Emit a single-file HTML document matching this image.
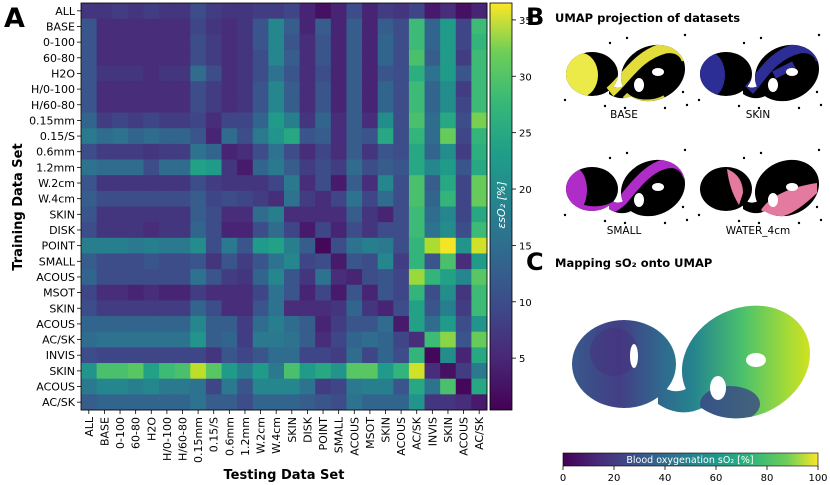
<!DOCTYPE html>
<html><head><meta charset="utf-8">
<style>
body{margin:0;background:#fff;}
svg{display:block;font-family:"DejaVu Sans","Liberation Sans",sans-serif;}
</style></head>
<body>
<svg id="fig" width="830" height="485" viewBox="0 0 830 485" xmlns="http://www.w3.org/2000/svg">
<defs>
<linearGradient id="vir" x1="0" y1="1" x2="0" y2="0">
<stop offset="0" stop-color="#440154"/><stop offset="0.13" stop-color="#482878"/><stop offset="0.25" stop-color="#3e4989"/><stop offset="0.38" stop-color="#31688e"/><stop offset="0.5" stop-color="#26828e"/><stop offset="0.63" stop-color="#1f9e89"/><stop offset="0.75" stop-color="#35b779"/><stop offset="0.88" stop-color="#6ece58"/><stop offset="1" stop-color="#fde725"/>
</linearGradient>
<linearGradient id="virh" x1="0" y1="0" x2="1" y2="0">
<stop offset="0" stop-color="#440154"/><stop offset="0.13" stop-color="#482878"/><stop offset="0.25" stop-color="#3e4989"/><stop offset="0.38" stop-color="#31688e"/><stop offset="0.5" stop-color="#26828e"/><stop offset="0.63" stop-color="#1f9e89"/><stop offset="0.75" stop-color="#35b779"/><stop offset="0.88" stop-color="#6ece58"/><stop offset="1" stop-color="#fde725"/>
</linearGradient>
<linearGradient id="umapc" gradientUnits="userSpaceOnUse" x1="0" y1="0" x2="124" y2="0">
<stop offset="0" stop-color="#38598c"/><stop offset="0.2" stop-color="#433e85"/><stop offset="0.38" stop-color="#2f6b8e"/><stop offset="0.5" stop-color="#25858e"/><stop offset="0.7" stop-color="#4cc26c"/><stop offset="0.88" stop-color="#a5db36"/><stop offset="1" stop-color="#e2e418"/>
</linearGradient>
<clipPath id="clipb">
<ellipse cx="27" cy="34" rx="26" ry="22"/>
<ellipse cx="88" cy="33" rx="33" ry="27" transform="rotate(-25 88 33)"/>
<path d="M44,44 C52,50 58,48 64,42 L66,56 C58,60 50,58 44,54Z"/>
</clipPath>
<g id="holes">
<ellipse cx="74" cy="45" rx="5" ry="7" fill="#fff"/>
<ellipse cx="93" cy="32" rx="6" ry="4" fill="#fff"/>
<circle cx="45" cy="3" r="1.2" fill="#000"/><circle cx="62" cy="-2" r="1.2" fill="#000"/><circle cx="120" cy="-5" r="1.2" fill="#000"/>
<circle cx="0" cy="60" r="1.2" fill="#000"/><circle cx="40" cy="66" r="1.2" fill="#000"/><circle cx="60" cy="68" r="1.2" fill="#000"/>
<circle cx="100" cy="68" r="1.2" fill="#000"/><circle cx="122" cy="65" r="1.2" fill="#000"/><circle cx="118" cy="52" r="1.2" fill="#000"/>
</g>
</defs>
<g id="heat"></g>
<g id="cbar"></g>
<text x="4" y="27" font-size="27" font-weight="bold">A</text>
<text transform="translate(22,207) rotate(-90)" text-anchor="middle" font-size="13" font-weight="bold">Training Data Set</text>
<text x="284" y="479" text-anchor="middle" font-size="13" font-weight="bold">Testing Data Set</text>

<text x="526" y="25" font-size="24" font-weight="bold">B</text>
<text x="555" y="22" font-size="11.5" font-weight="bold">UMAP projection of datasets</text>

<g transform="translate(565,40)">
<g clip-path="url(#clipb)"><rect x="-5" y="-10" width="135" height="80" fill="#000"/><ellipse cx="16" cy="35" rx="17" ry="22" fill="#ecea48"/><path d="M45,52 C60,40 72,15 100,8 C112,6 120,12 122,20" fill="none" stroke="#e3dd3c" stroke-width="11"/><path d="M60,55 C70,65 90,64 100,58" fill="none" stroke="#d8d440" stroke-width="6"/></g>
<use href="#holes"/></g>
<text x="624" y="118" text-anchor="middle" font-size="10.5">BASE</text>

<g transform="translate(699,40)">
<g clip-path="url(#clipb)"><rect x="-5" y="-10" width="135" height="80" fill="#000"/><ellipse cx="12" cy="35" rx="14" ry="22" fill="#2d2d96"/><path d="M50,50 C62,38 72,15 100,8 C112,6 120,12 122,20" fill="none" stroke="#2d2d96" stroke-width="11"/><path d="M75,35 L95,25" stroke="#2d2d96" stroke-width="8"/></g>
<use href="#holes"/></g>
<text x="758" y="118" text-anchor="middle" font-size="10.5">SKIN</text>

<g transform="translate(565,155)">
<g clip-path="url(#clipb)"><rect x="-5" y="-10" width="135" height="80" fill="#000"/><ellipse cx="10" cy="35" rx="12" ry="22" fill="#b02cc8"/><path d="M5,50 C25,60 45,58 58,45 C70,30 85,10 105,8 C115,8 121,14 123,22" fill="none" stroke="#b02cc8" stroke-width="10"/></g>
<use href="#holes"/></g>
<text x="624" y="234" text-anchor="middle" font-size="10.5">SMALL</text>

<g transform="translate(699,155)">
<g clip-path="url(#clipb)"><rect x="-5" y="-10" width="135" height="80" fill="#000"/><path d="M28,14 C38,18 44,26 44,38 L40,50 C34,40 30,30 28,14Z" fill="#e57aa0"/><path d="M62,55 C70,42 90,32 118,28 L118,38 C100,55 85,65 70,62Z" fill="#e57aa0"/></g>
<use href="#holes"/></g>
<text x="758" y="234" text-anchor="middle" font-size="10.5">WATER_4cm</text>

<text x="526" y="270" font-size="24" font-weight="bold">C</text>
<text x="555" y="267" font-size="11.5" font-weight="bold">Mapping sO₂ onto UMAP</text>
<g transform="translate(570,296) scale(2,2)">
<g clip-path="url(#clipb)"><rect x="-5" y="-10" width="135" height="80" fill="url(#umapc)"/><ellipse cx="80" cy="54" rx="15" ry="9" fill="#3b3f85" opacity="0.75"/><ellipse cx="22" cy="28" rx="12" ry="12" fill="#45307e" opacity="0.5"/></g>
<ellipse cx="74" cy="46" rx="4" ry="6" fill="#fff"/>
<ellipse cx="93" cy="32" rx="5" ry="3.5" fill="#fff"/>
<ellipse cx="32" cy="30" rx="2" ry="6" fill="#fff"/>
</g>
<g>
<rect x="563" y="453" width="255" height="13" fill="url(#virh)" stroke="#000" stroke-width="0.6"/>
<text x="690" y="463" text-anchor="middle" font-size="9.5" fill="#fff">Blood oxygenation sO₂ [%]</text>
</g>
<g id="so2ticks"></g>
</svg>
<script>
const rowLabels=["ALL","BASE","0-100","60-80","H2O","H/0-100","H/60-80","0.15mm","0.15/S","0.6mm","1.2mm","W.2cm","W.4cm","SKIN","DISK","POINT","SMALL","ACOUS","MSOT","SKIN","ACOUS","AC/SK","INVIS","SKIN","ACOUS","AC/SK"];
const colLabels=rowLabels.slice();
const cbarTicks=[5,10,15,20,25,30,35];
const so2Ticks=[0,20,40,60,80,100];
const values=[
[6,6,7,6,7,6,6,9,7,6,6,7,7,8,4,2,4,9,4,7,6,8,3,5,2,4],
[10,5,5,5,5,5,5,8,6,5,6,10,17,11,4,11,4,11,4,11,9,25,12,20,8,25],
[10,5,5,5,5,5,5,9,7,5,6,10,17,10,5,10,4,11,4,12,9,25,12,20,8,24],
[10,5,5,5,5,5,5,9,7,5,6,9,17,11,5,10,4,11,4,12,9,26,11,20,7,25],
[10,6,6,6,5,6,6,13,9,5,6,9,14,10,5,9,4,11,4,10,9,23,14,20,10,25],
[10,5,5,5,5,5,5,9,7,5,6,10,17,11,5,10,4,11,4,12,9,25,12,18,7,25],
[10,5,5,5,5,5,5,9,7,5,6,10,17,11,5,10,4,11,4,12,9,25,12,18,8,25],
[12,7,8,7,8,7,7,8,5,8,8,12,20,16,6,12,5,11,5,18,9,26,13,22,9,29],
[15,13,14,12,13,12,12,10,4,13,9,15,19,22,10,11,5,11,10,22,9,24,13,28,8,24],
[9,7,7,7,6,7,7,14,12,4,5,9,14,9,5,8,5,11,6,10,9,22,12,18,7,23],
[14,13,13,13,9,13,13,21,20,6,3,12,15,11,7,9,7,13,9,11,10,22,17,20,10,22],
[10,6,6,6,6,6,6,9,7,6,6,6,8,15,5,9,3,11,5,17,9,26,11,22,8,28],
[11,9,9,9,9,9,9,11,8,9,8,7,5,14,7,5,8,14,8,13,9,26,12,24,8,28],
[10,6,6,6,6,6,6,11,9,5,5,13,16,5,5,5,5,11,6,4,9,25,13,17,8,22],
[9,6,6,6,5,6,6,12,9,4,4,9,13,8,3,8,4,9,6,9,9,25,14,18,9,25],
[16,16,16,15,16,15,15,18,9,15,10,20,21,16,11,1,9,14,16,15,9,24,32,36,19,34],
[11,9,9,9,10,9,9,10,6,10,7,10,14,17,8,9,3,10,9,17,7,24,10,26,5,20],
[12,9,9,9,9,9,9,14,10,7,6,12,17,10,6,14,5,4,9,10,8,31,24,21,17,27],
[8,5,5,4,5,4,4,7,5,5,5,8,14,10,4,8,3,10,4,10,8,24,9,18,6,25],
[9,7,7,7,7,7,7,12,9,5,5,10,14,5,5,5,6,12,6,4,9,21,10,16,7,25],
[12,12,12,12,12,12,12,17,11,11,7,13,16,13,11,4,7,10,10,13,3,21,13,20,9,19],
[13,14,14,14,14,14,14,19,11,12,7,15,15,14,11,5,8,12,13,12,8,5,25,30,10,28],
[9,8,8,8,8,8,8,8,6,10,8,10,13,13,8,8,7,13,8,12,9,24,1,18,4,22],
[19,26,26,27,21,25,26,33,27,20,16,20,15,26,20,22,19,27,27,20,24,34,5,2,7,15],
[15,17,17,16,17,15,15,14,8,15,10,17,17,17,14,7,8,15,16,16,10,22,14,26,1,22],
[11,12,12,12,12,12,12,14,11,11,9,12,12,12,11,10,9,14,12,12,12,19,6,6,5,3]
];
const vmin=0.4,vmax=36.5;
const VIR=[[68,1,84],[72,40,120],[62,73,137],[49,104,142],[38,130,142],[31,158,137],[53,183,121],[110,206,88],[181,222,43],[253,231,37]];
function viridis(t){t=Math.max(0,Math.min(1,t));const p=t*(VIR.length-1),i=Math.min(Math.floor(p),VIR.length-2),f=p-i;
const c=VIR[i].map((a,k)=>Math.round(a+(VIR[i+1][k]-a)*f));return `rgb(${c[0]},${c[1]},${c[2]})`;}
const NS="http://www.w3.org/2000/svg";
const X0=81,X1=487,Y0=3,Y1=410;
const cw=(X1-X0)/colLabels.length,ch=(Y1-Y0)/rowLabels.length;
const xPos=j=>X0+j*cw, yPos=i=>Y0+i*ch;
const cbY=v=>Y1-(v-vmin)/(vmax-vmin)*(Y1-Y0);
function mk(tag,attrs,parent){const e=document.createElementNS(NS,tag);for(const k in attrs)e.setAttribute(k,attrs[k]);parent.appendChild(e);return e;}
const heat=document.getElementById('heat');
values.forEach((row,i)=>row.forEach((v,j)=>{
 const r=mk('rect',{x:xPos(j),y:yPos(i),width:cw+0.4,height:ch+0.4,fill:viridis((v-vmin)/(vmax-vmin))},heat);
 
 
}));
mk('rect',{x:X0,y:Y0,width:X1-X0,height:Y1-Y0,fill:'none',stroke:'#000','stroke-width':0.8},heat);
rowLabels.forEach((l,i)=>{
 const y=yPos(i)+ch/2;
 mk('line',{x1:X0-4,x2:X0,y1:y,y2:y,stroke:'#000','stroke-width':0.8},heat);
 const t=mk('text',{x:X0-6,y:y+4,'text-anchor':'end','font-size':11},heat);t.textContent=l;
 
 
});
colLabels.forEach((l,j)=>{
 const x=xPos(j)+cw/2;
 mk('line',{x1:x,x2:x,y1:Y1,y2:Y1+4,stroke:'#000','stroke-width':0.8},heat);
 const t=mk('text',{transform:`translate(${x+4},${Y1+7}) rotate(-90)`,'text-anchor':'end','font-size':11},heat);t.textContent=l;
 
 
});
const cb=document.getElementById('cbar');
mk('rect',{x:490,y:Y0,width:22,height:Y1-Y0,fill:'url(#vir)',stroke:'#000','stroke-width':0.8},cb);
cbarTicks.forEach(v=>{const y=cbY(v);
 mk('line',{x1:512,x2:516,y1:y,y2:y,stroke:'#000','stroke-width':0.8},cb);
 const t=mk('text',{x:519,y:y+4,'font-size':10},cb);t.textContent=v;
 
 
});
const cl=mk('text',{transform:'translate(505,205) rotate(-90)','text-anchor':'middle','font-size':11,fill:'#fff','font-style':'italic'},cb);
cl.textContent='εsO₂ [%]';


const st=document.getElementById('so2ticks');
so2Ticks.forEach(v=>{const x=563+v/100*255;
 mk('line',{x1:x,x2:x,y1:466,y2:470,stroke:'#000','stroke-width':0.8},st);
 const t=mk('text',{x:x,y:481,'text-anchor':'middle','font-size':10},st);t.textContent=v;
 
 
});
</script>
</body></html>
